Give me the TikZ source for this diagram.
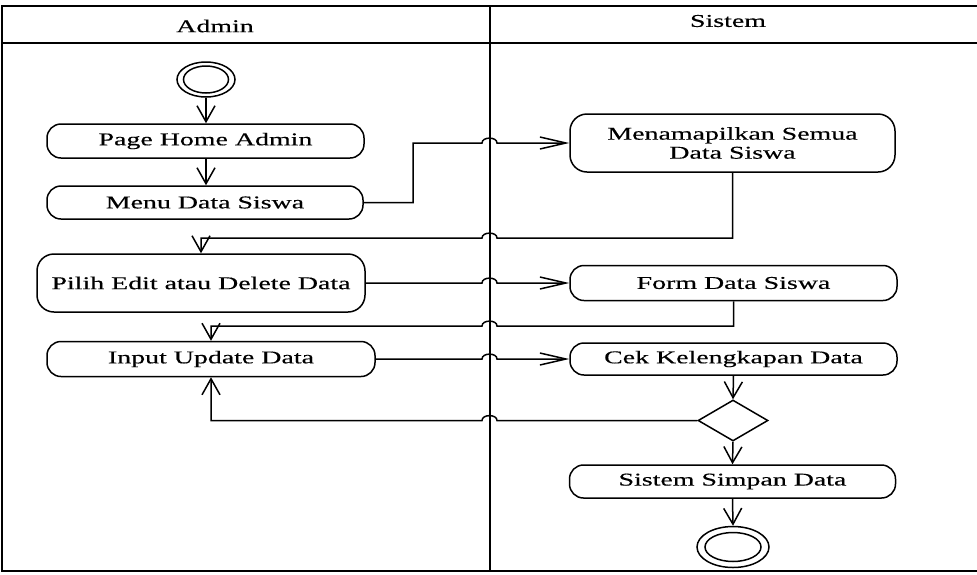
\documentclass[tikz,border=0pt]{standalone}
\usepackage{fontspec}
\setmainfont[FakeStretch=1.55,FakeBold=0.4]{Liberation Serif}
\usetikzlibrary{arrows.meta,shapes.geometric}
\begin{document}
\begin{tikzpicture}[x=1pt,y=-1pt,
  every node/.style={font=\fontsize{18}{20}\selectfont, inner sep=0pt, align=center},
  act/.style={draw, rectangle, rounded corners=14pt, line width=1.5pt},
  lane/.style={line width=2pt},
  flow/.style={line width=1.5pt},
  av/.style={flow, -{Straight Barb[length=16pt,width=18pt,line width=1.5pt]}},
  ah/.style={flow, -{Straight Barb[length=26pt,width=12pt,line width=1.5pt]}}]
\useasboundingbox (0,0) rectangle (977,574);

% swimlane frame
\draw[lane] (977,6) -- (2,6) -- (2,571) -- (977,571);
\draw[lane] (2,43) -- (977,43);
\draw[lane] (490,6) -- (490,571);
\node (hadmin) at (215,26) {Admin};
\node (hsistem) at (728,21) {Sistem};

% Admin lane
\node[draw, ellipse, line width=1.5pt, minimum width=58pt, minimum height=35pt] (start) at (206,79.5) {};
\draw[line width=1.5pt] (start.center) ellipse (22.5 and 13.5);
\node[act, minimum width=317pt, minimum height=34pt] (home) at (205.5,141) {Page Home Admin};
\node[act, minimum width=316pt, minimum height=33pt] (menu) at (205,202.5) {Menu Data Siswa};
\node[act, rounded corners=17pt, minimum width=328pt, minimum height=58pt] (pilih) at (201,283) {Pilih Edit atau Delete Data};
\node[act, minimum width=328pt, minimum height=35pt] (input) at (211,359) {Input Update Data};

% Sistem lane
\node[act, rounded corners=17pt, minimum width=325pt, minimum height=58pt] (tampil) at (732.5,143) {Menamapilkan Semua\\[-1pt]Data Siswa};
\node[act, minimum width=327pt, minimum height=35pt] (form) at (733.5,283) {Form Data Siswa};
\node[act, minimum width=327pt, minimum height=32pt] (cek) at (733.5,359) {Cek Kelengkapan Data};
\node[draw, diamond, line width=1.5pt, minimum width=70pt, minimum height=41pt] (dec) at (733,420.5) {};
\node[act, minimum width=326pt, minimum height=33pt] (simpan) at (732.5,481.5) {Sistem Simpan Data};
\node[draw, ellipse, line width=1.5pt, minimum width=72pt, minimum height=41pt] (end) at (733,547) {};
\draw[line width=1.5pt] (end.center) ellipse (28 and 14.5);

% control flow
\draw[av] (start.south) -- (start.south |- home.north);
\draw[av] (home.south -| start.south) -- (menu.north -| start.south);
\draw[ah] (menu.east) -- (413,202.5) |- (482,143)
  .. controls (482,136.5) and (497,136.5) .. (497,143) -- (tampil.west);
\draw[av] (tampil.south) |- (497,238)
  .. controls (497,231.5) and (482,231.5) .. (482,238) -| (pilih.north);
\draw[ah] (pilih.east) -- (482,283)
  .. controls (482,276.5) and (497,276.5) .. (497,283) -- (form.west);
\draw[av] (form.south) |- (497,326)
  .. controls (497,319.5) and (482,319.5) .. (482,326) -| (input.north);
\draw[ah] (input.east) -- (482,359)
  .. controls (482,352.5) and (497,352.5) .. (497,359) -- (cek.west);
\draw[av] (cek.south) -- (dec.north);
\draw[av] (dec.west) -- (497,420.5)
  .. controls (497,414) and (482,414) .. (482,420.5) -| (input.south);
\draw[av] (dec.south) -- (simpan.north);
\draw[av] (simpan.south) -- (end.north);
\end{tikzpicture}
\end{document}
